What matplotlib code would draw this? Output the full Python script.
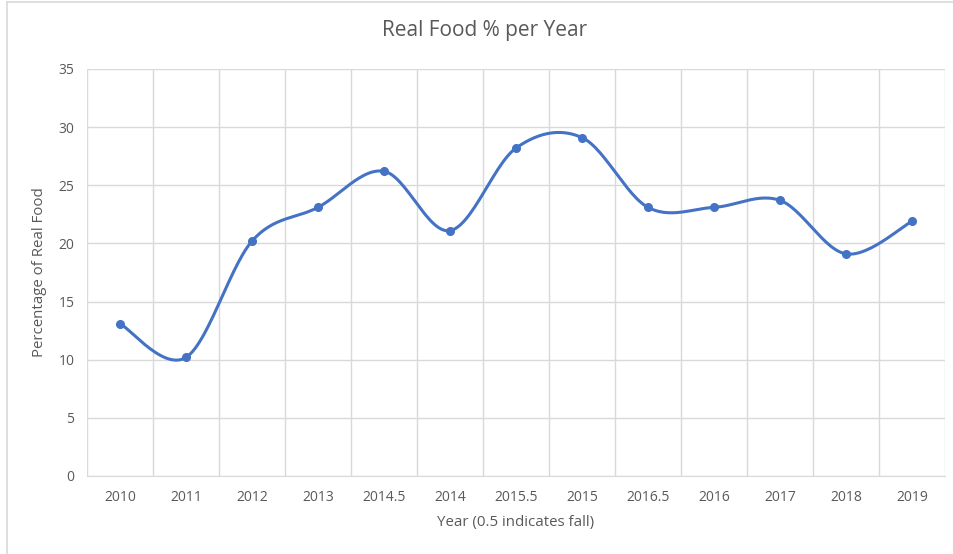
import numpy as np
import matplotlib.pyplot as plt
from matplotlib.lines import Line2D

# data
years = ["2010", "2011", "2012", "2013", "2014.5", "2014", "2015.5",
         "2015", "2016.5", "2016", "2017", "2018", "2019"]
real_food = [13.1, 10.2, 20.2, 23.1, 26.2, 21.1, 28.2, 29.1, 23.1, 23.1, 23.7, 19.1, 21.9]

plt.rcParams['font.family'] = ['Open Sans', 'DejaVu Sans']
text_col = '#595959'
grid_col = '#d9d9d9'
line_col = '#4472C4'


def smooth(xs, ys, n=30):
    # excel-like smoothed line (catmull-rom bezier)
    x = np.asarray(xs, float)
    y = np.asarray(ys, float)
    px = np.concatenate([[x[0]], x, [x[-1]]])
    py = np.concatenate([[y[0]], y, [y[-1]]])
    out_x, out_y = [], []
    t = np.linspace(0, 1, n)
    for i in range(1, len(px) - 2):
        p0 = np.array([px[i], py[i]])
        p3 = np.array([px[i + 1], py[i + 1]])
        c1 = p0 + (p3 - np.array([px[i - 1], py[i - 1]])) / 6
        c2 = p3 - (np.array([px[i + 2], py[i + 2]]) - p0) / 6
        b = ((1 - t) ** 3)[:, None] * p0 + (3 * (1 - t) ** 2 * t)[:, None] * c1 \
            + (3 * (1 - t) * t ** 2)[:, None] * c2 + (t ** 3)[:, None] * p3
        out_x.extend(b[:, 0])
        out_y.extend(b[:, 1])
    return out_x, out_y


fig = plt.figure(figsize=(9.54, 5.54), dpi=100)
ax = fig.add_axes([0.0912, 0.1408, 0.8994, 0.7347])

x = np.arange(len(years))
sx, sy = smooth(x, real_food)
ax.plot(sx, sy, color=line_col, lw=2.2, solid_capstyle='round', zorder=3)
ax.plot(x, real_food, 'o', color=line_col, ms=5.5, zorder=4)

ax.set_xlim(-0.5, len(years) - 0.5)
ax.set_ylim(0, 35)
ax.set_yticks(range(0, 36, 5))
ax.set_xticks(x)
ax.set_xticklabels(years)
ax.set_xticks(np.arange(-0.5, len(years), 1), minor=True)
ax.grid(True, which='major', axis='y', color=grid_col, lw=1)
ax.grid(True, which='minor', axis='x', color=grid_col, lw=1)
ax.tick_params(which='both', length=0, colors=text_col, labelsize=10)
ax.tick_params(axis='x', pad=10)
ax.tick_params(axis='y', pad=9)
for s in ax.spines.values():
    s.set_visible(False)
ax.spines['bottom'].set_visible(True)
ax.spines['bottom'].set_color(grid_col)
ax.set_axisbelow(True)

ax.set_xlabel("Year (0.5 indicates fall)", color=text_col, fontsize=10.8, labelpad=7)
ax.set_ylabel("Percentage of Real Food", color=text_col, fontsize=10.8, labelpad=8)
fig.text(0.508, 0.945, "Real Food % per Year", color=text_col, fontsize=15,
         ha='center', va='center')

# chart border (left and top visible)
fig.add_artist(Line2D([7 / 954, 7 / 954], [0, 1 - 2 / 554], transform=fig.transFigure,
                      color='#d9d9d9', lw=1.2))
fig.add_artist(Line2D([7 / 954, 1], [1 - 2 / 554, 1 - 2 / 554], transform=fig.transFigure,
                      color='#d9d9d9', lw=1.2))

fig.savefig('out.png', dpi=100)
